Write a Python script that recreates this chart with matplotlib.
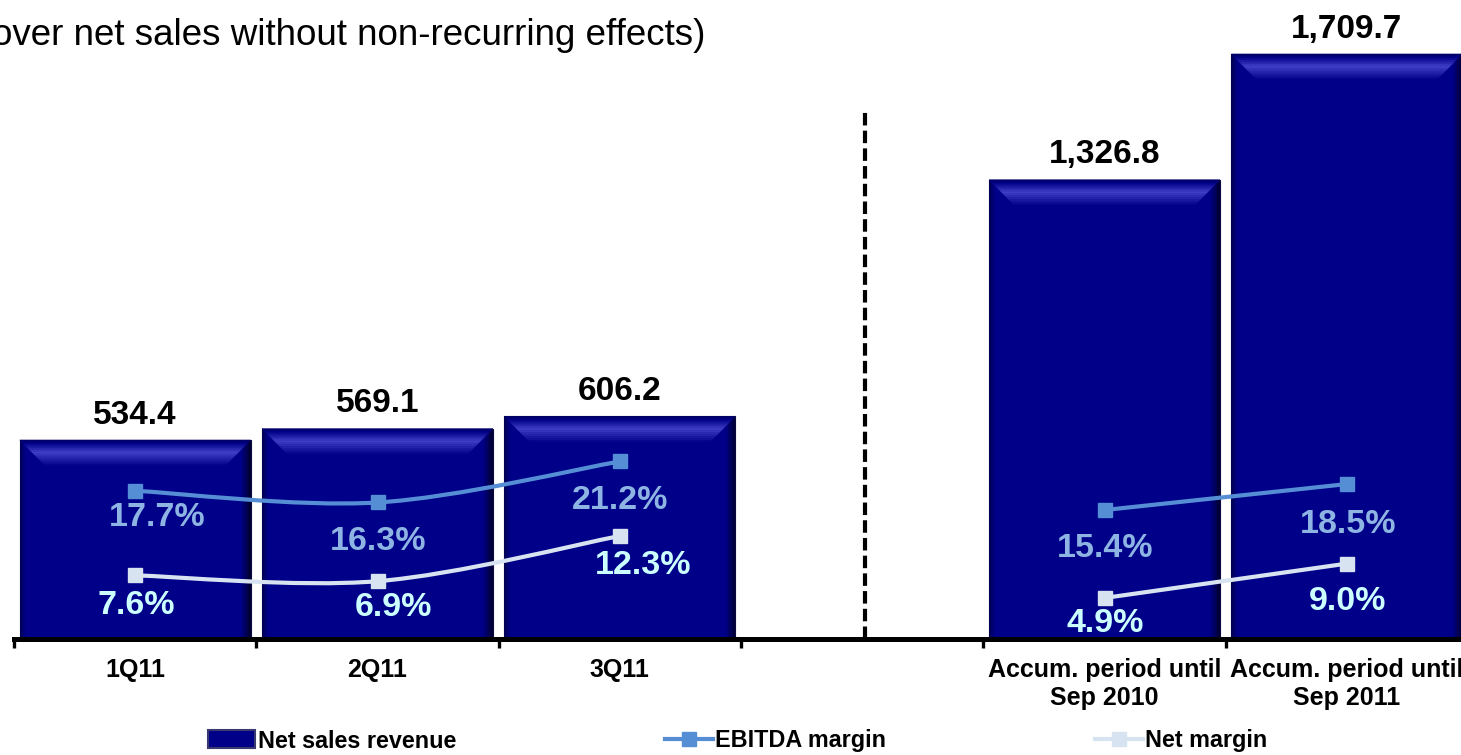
import numpy as np
import matplotlib
matplotlib.use("Agg")
import matplotlib.pyplot as plt
from matplotlib.path import Path
from matplotlib.patches import PathPatch, Polygon, Rectangle
from matplotlib.lines import Line2D

# ---------------- data ----------------
categories = ["1Q11", "2Q11", "3Q11", "",
              "Accum. period until\nSep 2010", "Accum. period until\nSep 2011"]
bar_positions = [0, 1, 2, 4, 5]
net_sales = [534.4, 569.1, 606.2, 1326.8, 1709.7]
ebitda_margin = [17.7, 16.3, 21.2, 15.4, 18.5]
net_margin = [7.6, 6.9, 12.3, 4.9, 9.0]
series_names = ["Net sales revenue", "EBITDA margin", "Net margin"]
subtitle = "over net sales without non-recurring effects)"
quarter_idx = [0, 1, 2]     # smoothed segment
accum_idx = [3, 4]          # straight segment

# ---------------- style ----------------
FONT = "Liberation Sans"
plt.rcParams["font.family"] = [FONT, "DejaVu Sans"]
BAR_BASE = np.array([0x00, 0x00, 0x88]) / 255
EBITDA_LINE = "#558ED5"
NET_LINE = "#D8E3F2"
EBITDA_TXT = "#8DB4E2"
NET_TXT = "#CCFFFF"
# label offsets (pixels right, pixels down) relative to marker
ebitda_off_px = [(22, 27), (1, 39), (0, 39), (1, 38), (1, 40)]
net_off_px = [(1, 30), (16, 26), (23, 30), (1, 26), (1, 38)]

W, H = 1461, 755
fig = plt.figure(figsize=(W / 100, H / 100), dpi=100)
ax = fig.add_axes([14 / W, 116 / H, 1454 / W, 639 / H])
YMIN, YMAX = -71.6, 1874.0
ax.set_xlim(-0.5, 5.5)
ax.set_ylim(YMIN, YMAX)

for s in ["top", "left", "right"]:
    ax.spines[s].set_visible(False)
ax.spines["bottom"].set_linewidth(3.6)
ax.spines["bottom"].set_zorder(10)
ax.set_yticks([])
ax.set_xticks(range(len(categories)))
ax.set_xticklabels(categories, fontsize=18, fontweight="bold", linespacing=1.2)
ax.tick_params(axis="x", which="major", length=0, pad=14)
ax.set_xticks(np.arange(-0.5, len(categories), 1.0), minor=True)
ax.tick_params(axis="x", which="minor", length=6.5, width=2.4, direction="out")

bars = ax.bar(bar_positions, [v - YMIN for v in net_sales], bottom=YMIN,
              width=0.953, color=BAR_BASE, edgecolor="#0A0A40", linewidth=0.8, zorder=2)

def mix(c1, c2, t):
    return tuple(np.clip(np.array(c1) * (1 - t) + np.array(c2) * t, 0, 1))

LIGHT = np.array([0x40, 0x40, 0xC8]) / 255
DARK = np.array([0x00, 0x00, 0x30]) / 255

def bevel(axis, rect):
    x0, y0 = rect.get_x(), rect.get_y()
    w, h = rect.get_width(), rect.get_height()
    T = axis.transData
    p0 = T.transform((x0, y0))
    p1 = T.transform((x0 + w, y0 + h))
    sx = (p1[0] - p0[0]) / w
    sy = (p1[1] - p0[1]) / h
    top = y0 + h
    n = 8
    for i in range(n):
        a, b = i / n, (i + 1) / n
        col = mix(DARK, BAR_BASE, (a + b) / 2)
        axis.add_patch(Rectangle((x0 + w - 10 * b / sx, y0), 10 * (b - a) / sx, h,
                                 facecolor=col, edgecolor="none", zorder=2.1))
        col = mix(np.array([0, 0, 0x50]) / 255, BAR_BASE, (a + b) / 2)
        axis.add_patch(Rectangle((x0 + 6 * a / sx, y0), 6 * (b - a) / sx, h,
                                 facecolor=col, edgecolor="none", zorder=2.1))
    bev = 30.0
    m = 15
    for i in range(m):
        a, b = i / m, (i + 1) / m
        t = (a + b) / 2
        if t < 0.12:
            col = mix(np.array([0, 0, 0x60]) / 255, BAR_BASE, t / 0.12)
        elif t < 0.42:
            col = mix(BAR_BASE, LIGHT, (t - 0.12) / 0.3)
        else:
            col = mix(LIGHT, BAR_BASE, min(1, (t - 0.42) / 0.45))
        d1, d2 = a * bev, b * bev
        poly = [(x0 + d1 / sx, top - d1 / sy), (x0 + w - d1 / sx, top - d1 / sy),
                (x0 + w - d2 / sx, top - d2 / sy), (x0 + d2 / sx, top - d2 / sy)]
        axis.add_patch(Polygon(poly, closed=True, facecolor=col, edgecolor=col,
                               linewidth=0.3, zorder=2.2))

for r in bars:
    bevel(ax, r)

for x, v in zip(bar_positions, net_sales):
    ax.annotate(f"{v:,.1f}", (x, v), xytext=(0, 11.8), textcoords="offset points",
                ha="center", va="baseline", fontsize=24, fontweight="bold", color="black")

# dashed separator in the empty slot
ax.plot([3.01, 3.01], [YMIN, 1545], color="black", lw=3, linestyle=(0, (3.0, 1.25)),
        zorder=3, solid_capstyle="butt")

# ---------------- secondary axis: margins ----------------
ax2 = ax.twinx()
ax2.set_ylim(0, 76.3)
ax2.set_xlim(-0.5, 5.5)
ax2.axis("off")

def smooth_path(xs, ys):
    pts = np.column_stack([xs, ys]).astype(float)
    n = len(pts)
    verts = [pts[0]]
    codes = [Path.MOVETO]
    for i in range(n - 1):
        p_prev = pts[i - 1] if i > 0 else pts[i]
        p_next2 = pts[i + 2] if i + 2 < n else pts[i + 1]
        c1 = pts[i] + (pts[i + 1] - p_prev) / 6.0
        c2 = pts[i + 1] - (p_next2 - pts[i]) / 6.0
        verts += [c1, c2, pts[i + 1]]
        codes += [Path.CURVE4] * 3
    return Path(verts, codes)

for vals, lc, tc, offs in [(ebitda_margin, EBITDA_LINE, EBITDA_TXT, ebitda_off_px),
                           (net_margin, NET_LINE, NET_TXT, net_off_px)]:
    qx = [bar_positions[i] for i in quarter_idx]
    qy = [vals[i] for i in quarter_idx]
    ax2.add_patch(PathPatch(smooth_path(qx, qy), fill=False, edgecolor=lc, lw=3, zorder=4))
    axx = [bar_positions[i] for i in accum_idx]
    ayy = [vals[i] for i in accum_idx]
    ax2.plot(axx, ayy, color=lc, lw=3, zorder=4)
    ax2.plot(bar_positions, vals, linestyle="none", marker="s", markersize=10.5,
             color=lc, zorder=5)
    for x, v, (dx, dy) in zip(bar_positions, vals, offs):
        ax2.annotate(f"{v:.1f}%", (x, v), xytext=(dx * 0.72, -dy * 0.72),
                     textcoords="offset points", ha="center", va="center",
                     fontsize=24.5, fontweight="bold", color=tc, zorder=6)

# ---------------- subtitle ----------------
fig.text(-8 / W, (H - 45) / H, subtitle, fontsize=26.5, ha="left", va="baseline")

# ---------------- legend ----------------
handles = [
    Rectangle((0, 0), 1, 1, facecolor=BAR_BASE, edgecolor="#3A3A70", linewidth=1.5),
    Line2D([], [], color=EBITDA_LINE, lw=3, marker="s", markersize=10),
    Line2D([], [], color=NET_LINE, lw=3, marker="s", markersize=10),
]
fig.legend(handles, series_names, loc="center", bbox_to_anchor=(0.5048, 14 / H),
           ncol=3, frameon=False, prop={"family": FONT, "weight": "bold", "size": 16.8},
           handlelength=2.05, handleheight=0.8, handletextpad=0.1, columnspacing=8.95,
           borderpad=0)

fig.savefig("out.png", dpi=100)
